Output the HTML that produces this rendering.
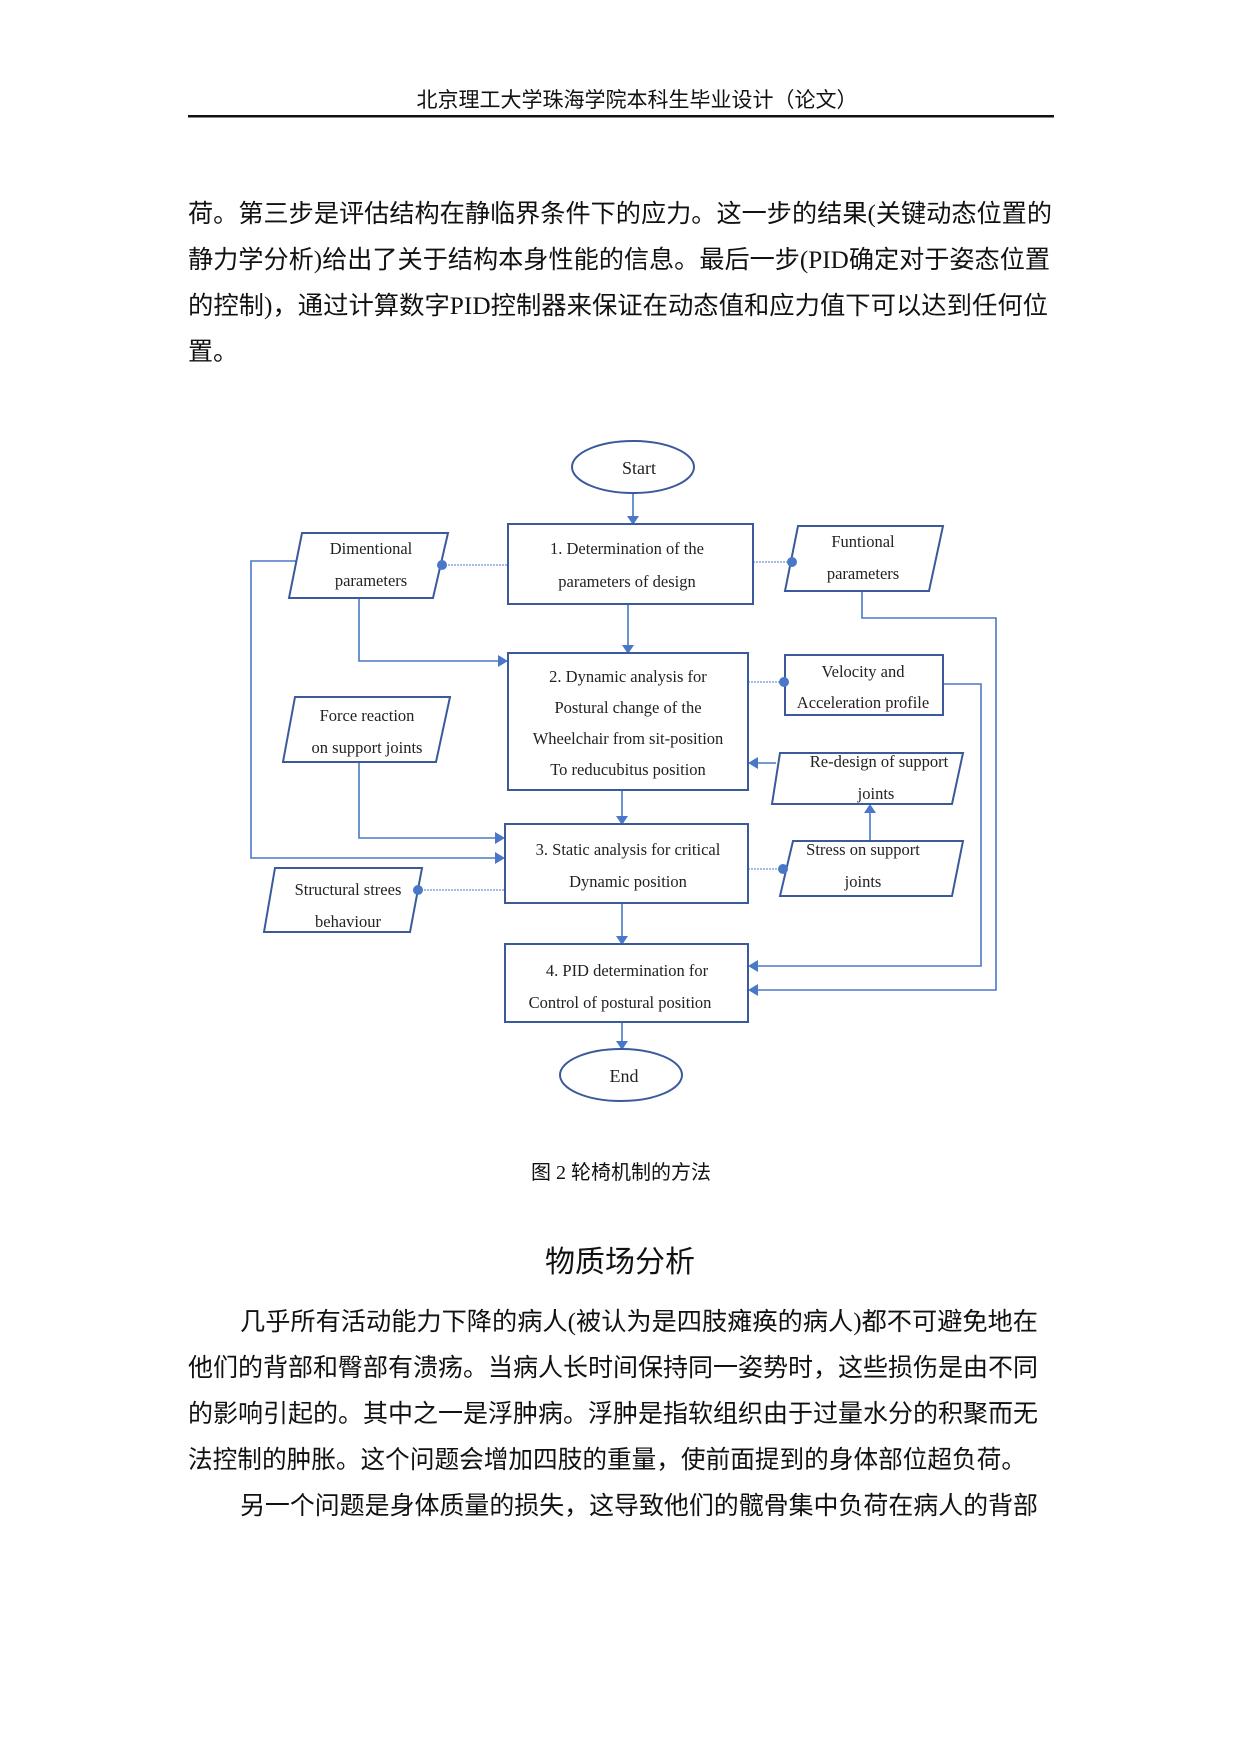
<!DOCTYPE html>
<html><head><meta charset="utf-8"><style>
html,body{margin:0;padding:0;background:#fff}
svg{display:block}
.cn{font-family:"Liberation Serif","Noto Sans CJK SC",sans-serif;fill:#111}
.fc{font-family:"Liberation Serif",serif;font-size:16.5px;fill:#222;text-anchor:middle}
</style></head><body>
<svg width="1240" height="1754" viewBox="0 0 1240 1754" xmlns="http://www.w3.org/2000/svg">
<text class="cn" x="637" y="107" font-size="21" text-anchor="middle">北京理工大学珠海学院本科生毕业设计（论文）</text>
<rect x="188" y="115" width="866" height="2.5" fill="#111"/>

<g class="cn" font-size="25">
<text x="188" y="222" textLength="864" lengthAdjust="spacingAndGlyphs">荷。第三步是评估结构在静临界条件下的应力。这一步的结果(关键动态位置的</text>
<text x="188" y="268" textLength="862" lengthAdjust="spacingAndGlyphs">静力学分析)给出了关于结构本身性能的信息。最后一步(PID确定对于姿态位置</text>
<text x="188" y="314" textLength="860" lengthAdjust="spacingAndGlyphs">的控制)，通过计算数字PID控制器来保证在动态值和应力值下可以达到任何位</text>
<text x="188" y="360">置。</text>
</g>

<g fill="none" stroke="#4a78c8" stroke-width="1.6">
<line x1="633" y1="493" x2="633" y2="518"/>
<line x1="628" y1="604" x2="628" y2="647"/>
<line x1="622" y1="790" x2="622" y2="818"/>
<line x1="622" y1="903" x2="622" y2="938"/>
<line x1="622" y1="1022" x2="622" y2="1043"/>
<polyline points="359,598 359,661 500,661"/>
<polyline points="298,561 251,561 251,858 497,858"/>
<polyline points="359,762 359,838 497,838"/>
<polyline points="862,591 862,618 996,618 996,990 756,990"/>
<polyline points="943,684 981,684 981,966 756,966"/>
<line x1="776" y1="763" x2="756" y2="763"/>
<line x1="870" y1="841" x2="870" y2="812"/>
</g>
<g fill="none" stroke="#8aa6d8" stroke-width="1.4" stroke-dasharray="2,1">
<line x1="442" y1="565" x2="508" y2="565"/>
<line x1="753" y1="562" x2="792" y2="562"/>
<line x1="748" y1="682" x2="784" y2="682"/>
<line x1="748" y1="869" x2="783" y2="869"/>
<line x1="418" y1="890" x2="505" y2="890"/>
</g>
<g fill="#4a78c8">
<polygon points="627,516 639,516 633,525"/>
<polygon points="622,645 634,645 628,654"/>
<polygon points="616,816 628,816 622,825"/>
<polygon points="616,936 628,936 622,945"/>
<polygon points="616,1041 628,1041 622,1050"/>
<polygon points="498,655 498,667 508,661"/>
<polygon points="495,832 495,844 505,838"/>
<polygon points="495,852 495,864 505,858"/>
<polygon points="758,984 758,996 748,990"/>
<polygon points="758,960 758,972 748,966"/>
<polygon points="758,757 758,769 748,763"/>
<polygon points="864,813 876,813 870,804"/>
</g>

<g fill="#fff" stroke="#3a5a9c" stroke-width="2">
<ellipse cx="633" cy="467" rx="61" ry="26"/>
<ellipse cx="621" cy="1075" rx="61" ry="26"/>
<rect x="508" y="524" width="245" height="80"/>
<rect x="508" y="653" width="240" height="137"/>
<rect x="505" y="824" width="243" height="79"/>
<rect x="505" y="944" width="243" height="78"/>
<rect x="785" y="655" width="158" height="60"/>
<polygon points="302,533 448,533 433,598 289,598"/>
<polygon points="798,526 943,526 929,591 785,591"/>
<polygon points="295,697 450,697 436,762 283,762"/>
<polygon points="780,753 963,753 952,804 772,804"/>
<polygon points="793,841 963,841 952,896 780,896"/>
<polygon points="275,868 422,868 410,932 264,932"/>
</g>
<g fill="#4a78c8">
<circle cx="442" cy="565" r="5"/><circle cx="792" cy="562" r="5"/>
<circle cx="784" cy="682" r="5"/><circle cx="783" cy="869" r="5"/>
<circle cx="418" cy="890" r="5"/>
</g>

<g class="fc">
<text x="639" y="474" font-size="18">Start</text>
<text x="624" y="1082" font-size="18">End</text>
<text x="627" y="554">1. Determination of the</text>
<text x="627" y="587">parameters of design</text>
<text x="371" y="554">Dimentional</text>
<text x="371" y="586">parameters</text>
<text x="863" y="547">Funtional</text>
<text x="863" y="579">parameters</text>
<text x="628" y="682">2. Dynamic analysis for</text>
<text x="628" y="713">Postural change of the</text>
<text x="628" y="744">Wheelchair from sit-position</text>
<text x="628" y="775">To reducubitus position</text>
<text x="863" y="677">Velocity and</text>
<text x="863" y="708">Acceleration profile</text>
<text x="367" y="721">Force reaction</text>
<text x="367" y="753">on support joints</text>
<text x="879" y="767">Re-design of support</text>
<text x="876" y="799">joints</text>
<text x="628" y="855">3. Static analysis for critical</text>
<text x="628" y="887">Dynamic position</text>
<text x="863" y="855">Stress on support</text>
<text x="863" y="887">joints</text>
<text x="348" y="895">Structural strees</text>
<text x="348" y="927">behaviour</text>
<text x="627" y="976">4. PID determination for</text>
<text x="620" y="1008">Control of postural position</text>
</g>

<text class="cn" x="621" y="1179" font-size="20" text-anchor="middle">图 2 轮椅机制的方法</text>
<text class="cn" x="620" y="1272" font-size="30" text-anchor="middle">物质场分析</text>
<g class="cn" font-size="25">
<text x="240" y="1330" textLength="798" lengthAdjust="spacingAndGlyphs">几乎所有活动能力下降的病人(被认为是四肢瘫痪的病人)都不可避免地在</text>
<text x="188" y="1376" textLength="850" lengthAdjust="spacingAndGlyphs">他们的背部和臀部有溃疡。当病人长时间保持同一姿势时，这些损伤是由不同</text>
<text x="188" y="1422" textLength="850" lengthAdjust="spacingAndGlyphs">的影响引起的。其中之一是浮肿病。浮肿是指软组织由于过量水分的积聚而无</text>
<text x="188" y="1468" textLength="838" lengthAdjust="spacingAndGlyphs">法控制的肿胀。这个问题会增加四肢的重量，使前面提到的身体部位超负荷。</text>
<text x="240" y="1514" textLength="798" lengthAdjust="spacingAndGlyphs">另一个问题是身体质量的损失，这导致他们的髋骨集中负荷在病人的背部</text>
</g>
</svg>
</body></html>
